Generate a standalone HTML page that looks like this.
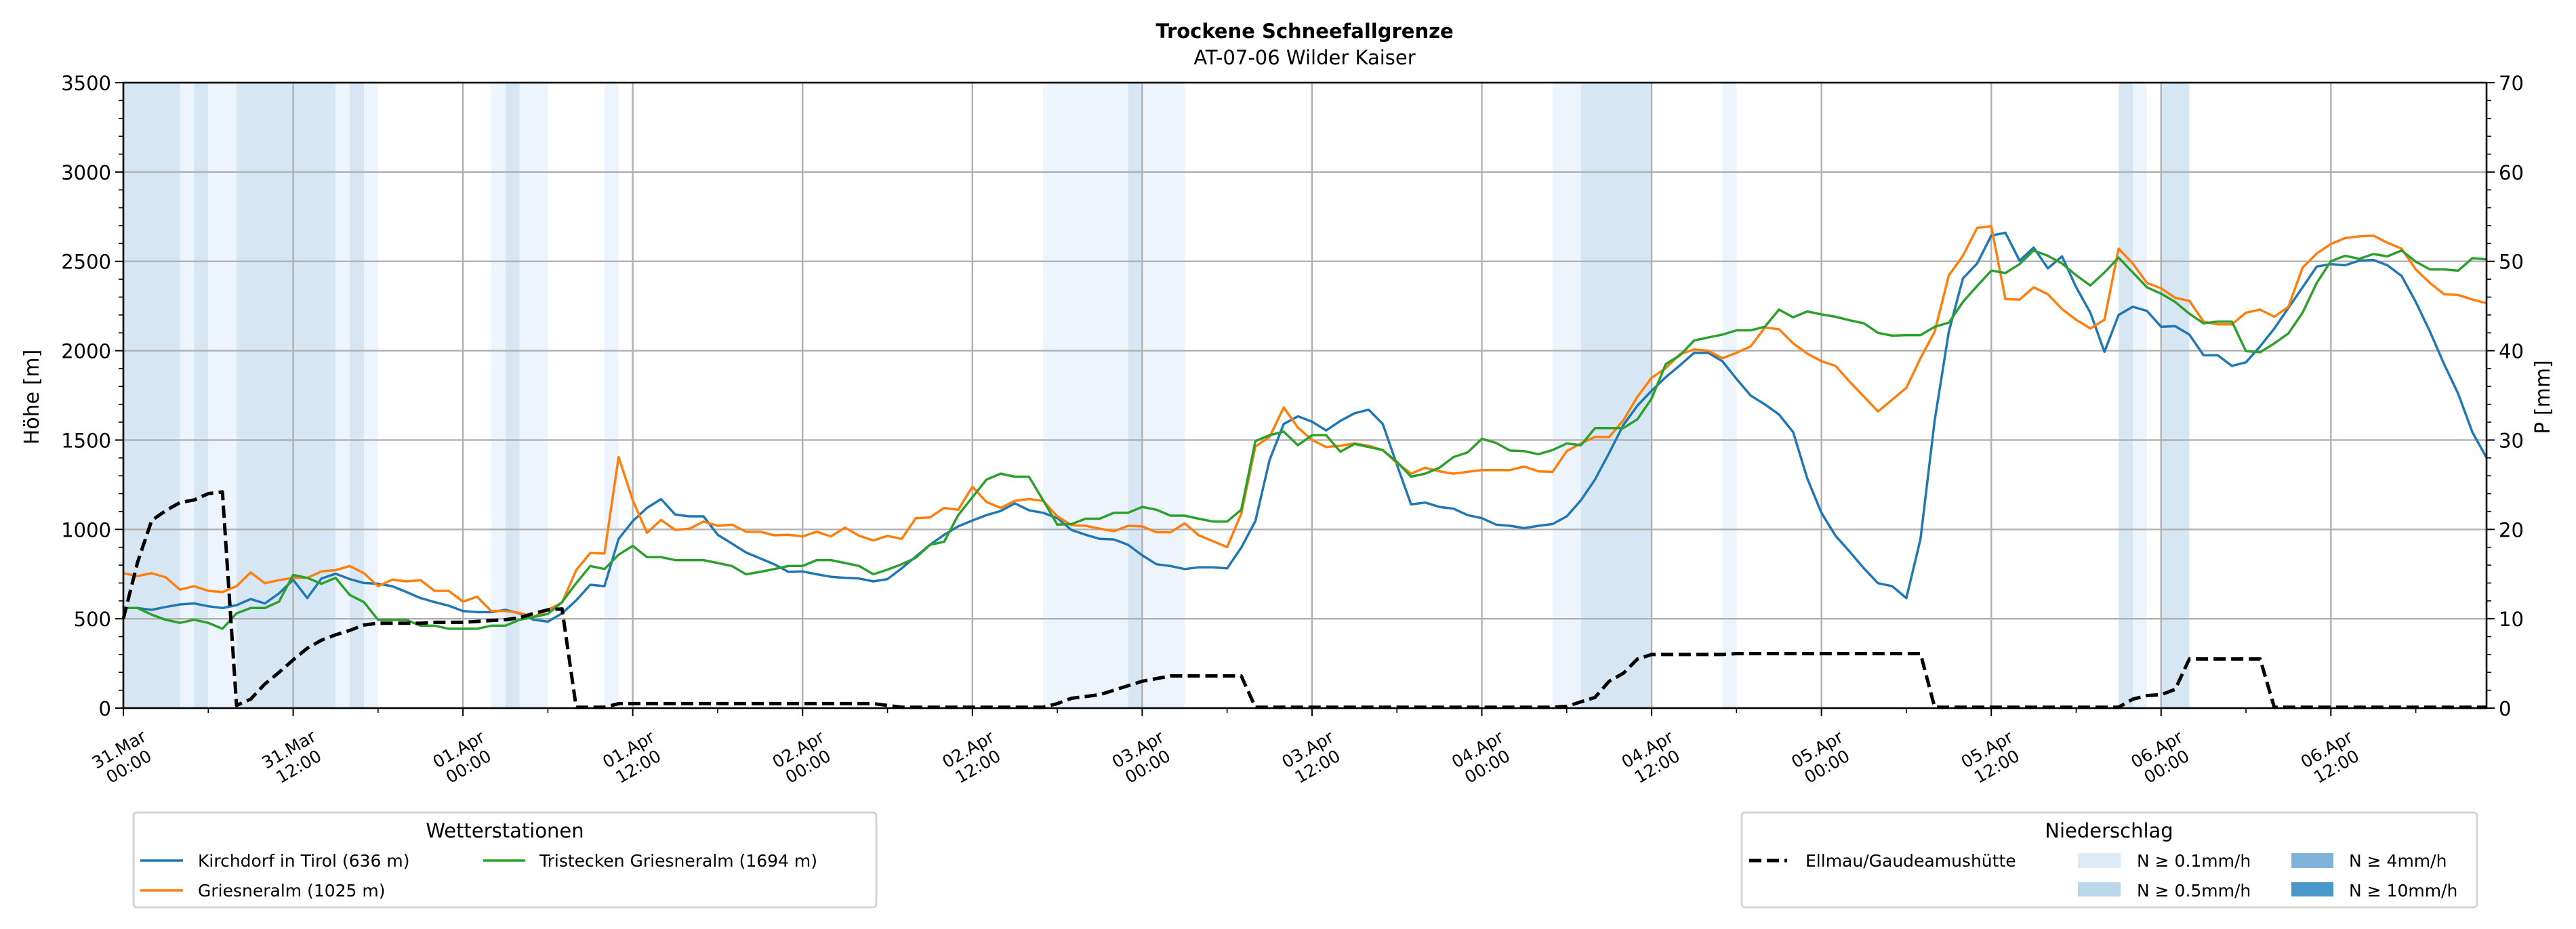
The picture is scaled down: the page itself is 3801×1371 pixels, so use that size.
<!DOCTYPE html>
<html><head><meta charset="utf-8"><style>
html,body{margin:0;padding:0;background:#fff;}
svg{display:block;font-family:"DejaVu Sans","Liberation Sans",sans-serif;}
</style></head><body>
<svg id="chart" xmlns="http://www.w3.org/2000/svg" width="3801" height="1371" viewBox="0 0 3801 1371">
<rect width="3801" height="1371" fill="#fff"/>
<g id="bands"></g><g id="grid"></g><g id="series"></g><g id="axes"></g>
<text x="1925" y="56" text-anchor="middle" font-size="29" font-weight="bold">Trockene Schneefallgrenze</text>
<text x="1925" y="95" text-anchor="middle" font-size="29">AT-07-06 Wilder Kaiser</text>
<text transform="translate(57,586) rotate(-90)" text-anchor="middle" font-size="30">Höhe [m]</text>
<text transform="translate(3762,586) rotate(-90)" text-anchor="middle" font-size="30">P [mm]</text>
<g>
<rect x="197" y="1199" width="1096" height="140" rx="5" fill="#fff" stroke="#d4d4d4" stroke-width="3"/>
<text x="745" y="1236" text-anchor="middle" font-size="29">Wetterstationen</text>
<line x1="207" y1="1270" x2="270" y2="1270" stroke="#1f77b4" stroke-width="3.5"/>
<text x="292" y="1279" font-size="25">Kirchdorf in Tirol (636 m)</text>
<line x1="207" y1="1314" x2="270" y2="1314" stroke="#ff7f0e" stroke-width="3.5"/>
<text x="292" y="1323" font-size="25">Griesneralm (1025 m)</text>
<line x1="713" y1="1270" x2="775" y2="1270" stroke="#2ca02c" stroke-width="3.5"/>
<text x="796" y="1279" font-size="25">Tristecken Griesneralm  (1694 m)</text>
</g>
<g>
<rect x="2570" y="1199" width="1085" height="140" rx="5" fill="#fff" stroke="#d4d4d4" stroke-width="3"/>
<text x="3112" y="1236" text-anchor="middle" font-size="29">Niederschlag</text>
<line x1="2581" y1="1270" x2="2637" y2="1270" stroke="#000" stroke-width="5" stroke-dasharray="18,8"/>
<text x="2664" y="1279" font-size="25">Ellmau/Gaudeamushütte</text>
<rect x="3066" y="1259" width="63" height="22" fill="#deebf7"/>
<text x="3153" y="1279" font-size="25">N ≥ 0.1mm/h</text>
<rect x="3066" y="1302" width="63" height="21" fill="#bad6eb"/>
<text x="3153" y="1323" font-size="25">N ≥ 0.5mm/h</text>
<rect x="3381" y="1259" width="62" height="22" fill="#7fb3d8"/>
<text x="3466" y="1279" font-size="25">N ≥ 4mm/h</text>
<rect x="3381" y="1302" width="62" height="21" fill="#4a98c9"/>
<text x="3466" y="1323" font-size="25">N ≥ 10mm/h</text>
</g>
</svg>
<script>
const kirchdorf=[560,560,550,566,580,586,570,560,576,610,586,642,718,616,725,752,722,700,696,682,650,616,593,573,543,537,537,550,530,494,484,530,603,690,682,947,1047,1120,1170,1083,1073,1073,970,921,871,838,805,762,765,749,735,729,725,709,722,782,848,914,970,1017,1050,1080,1103,1146,1107,1093,1063,997,970,947,944,914,855,805,795,778,788,788,782,898,1047,1388,1590,1633,1603,1554,1607,1650,1670,1590,1362,1140,1150,1126,1116,1080,1063,1027,1020,1007,1020,1030,1073,1163,1279,1428,1584,1693,1776,1852,1918,1988,1988,1941,1842,1749,1700,1643,1544,1285,1093,964,875,782,699,682,616,947,1610,2107,2405,2488,2644,2660,2504,2577,2461,2528,2355,2213,1994,2200,2246,2223,2134,2137,2090,1975,1975,1915,1935,2024,2124,2240,2355,2471,2485,2478,2504,2508,2478,2418,2273,2107,1925,1759,1544,1401];
const griesneralm=[755,739,755,732,663,682,656,649,682,759,699,716,729,729,765,772,795,755,682,719,709,716,656,656,596,623,543,543,533,510,550,590,772,868,865,1405,1163,981,1053,997,1004,1044,1020,1027,987,987,967,970,961,987,961,1010,964,938,964,947,1063,1067,1120,1110,1239,1153,1120,1160,1170,1160,1073,1024,1020,1004,990,1020,1017,984,984,1034,967,934,901,1087,1464,1517,1683,1570,1501,1461,1468,1481,1468,1444,1372,1312,1345,1325,1312,1322,1332,1332,1332,1352,1325,1322,1438,1481,1517,1517,1610,1743,1849,1902,1981,2007,2000,1958,1988,2024,2130,2120,2041,1984,1941,1915,1826,1743,1660,1726,1792,1958,2107,2422,2531,2687,2697,2289,2286,2355,2316,2233,2173,2124,2173,2571,2488,2379,2349,2296,2279,2163,2147,2147,2213,2230,2190,2246,2465,2544,2597,2630,2640,2644,2604,2571,2455,2379,2316,2312,2286,2266];
const tristecken=[560,560,523,494,477,494,477,444,530,560,560,596,745,729,696,729,633,593,494,494,494,461,461,444,444,444,461,461,494,510,527,593,699,795,778,858,908,845,845,828,828,828,812,795,749,762,778,795,795,828,828,812,795,749,775,805,841,914,931,1080,1180,1279,1312,1295,1295,1163,1027,1030,1060,1060,1093,1093,1126,1110,1077,1077,1060,1044,1044,1110,1494,1527,1547,1471,1527,1527,1435,1478,1461,1444,1378,1295,1312,1345,1405,1431,1507,1484,1441,1438,1421,1444,1481,1471,1567,1567,1567,1617,1733,1925,1974,2057,2074,2090,2114,2114,2134,2230,2187,2220,2203,2190,2170,2153,2100,2084,2087,2087,2134,2157,2273,2362,2448,2435,2485,2561,2531,2488,2422,2365,2438,2521,2438,2355,2319,2273,2207,2153,2163,2163,1998,1991,2041,2097,2213,2379,2501,2531,2514,2541,2528,2561,2498,2455,2455,2448,2518,2511];
const ellmauPrecip=[10,16.3,21,22.1,23,23.3,24,24.2,0.3,1,2.7,4,5.4,6.7,7.6,8.2,8.7,9.3,9.5,9.5,9.5,9.5,9.6,9.6,9.6,9.7,9.8,9.9,10.1,10.6,11,11.1,0.1,0.1,0.1,0.5,0.5,0.5,0.5,0.5,0.5,0.5,0.5,0.5,0.5,0.5,0.5,0.5,0.5,0.5,0.5,0.5,0.5,0.5,0.3,0.1,0.1,0.1,0.1,0.1,0.1,0.1,0.1,0.1,0.1,0.1,0.5,1.1,1.3,1.5,2,2.5,3,3.3,3.6,3.6,3.6,3.6,3.6,3.6,0.1,0.1,0.1,0.1,0.1,0.1,0.1,0.1,0.1,0.1,0.1,0.1,0.1,0.1,0.1,0.1,0.1,0.1,0.1,0.1,0.1,0.1,0.2,0.7,1.2,3,3.9,5.5,6,6,6,6,6,6,6.1,6.1,6.1,6.1,6.1,6.1,6.1,6.1,6.1,6.1,6.1,6.1,6.1,6.1,0.1,0.1,0.1,0.1,0.1,0.1,0.1,0.1,0.1,0.1,0.1,0.1,0.1,0.1,1,1.4,1.5,2.1,5.5,5.5,5.5,5.5,5.5,5.5,0.1,0.1,0.1,0.1,0.1,0.1,0.1,0.1,0.1,0.1,0.1,0.1,0.1,0.1,0.1,0.1];
const bandStart=[0,4,5,6,8,15,16,17,26,27,28,34,65,71,72,101,103,113,141,142,144];
const bandEnd=[4,5,6,8,15,16,17,18,27,28,30,35,71,72,75,103,108,114,142,143,146];
const bandLevel=[1,0,1,0,1,0,1,0,0,1,0,0,0,1,0,0,1,0,1,0,1];
const xTickLabels=["31.Mar|00:00","31.Mar|12:00","01.Apr|00:00","01.Apr|12:00","02.Apr|00:00","02.Apr|12:00","03.Apr|00:00","03.Apr|12:00","04.Apr|00:00","04.Apr|12:00","05.Apr|00:00","05.Apr|12:00","06.Apr|00:00","06.Apr|12:00"];
const yTicks=[0,500,1000,1500,2000,2500,3000,3500];
const y2Ticks=[0,10,20,30,40,50,60,70];

const NS="http://www.w3.org/2000/svg";
const L=182,R=3669,T=122,B=1045,HMAX=167;
const x=h=>L+(R-L)*h/HMAX;
const y=v=>B-(B-T)*v/3500;
const y2=v=>B-(B-T)*v/70;
function mk(tag,attrs,parent){const e=document.createElementNS(NS,tag);for(const k in attrs)e.setAttribute(k,attrs[k]);parent.appendChild(e);return e;}
const bands=document.getElementById('bands'),grid=document.getElementById('grid'),series=document.getElementById('series'),axes=document.getElementById('axes');
const bandColors=['#eef4fb','#d7e6f3'];
bandStart.forEach((s,i)=>{const r=mk('rect',{x:x(s),y:T,width:x(bandEnd[i])-x(s),height:B-T,fill:bandColors[bandLevel[i]]},bands);

});
xTickLabels.forEach((lab,i)=>{const h=i*12;const gx=x(h);
mk('line',{x1:gx,y1:T,x2:gx,y2:B,stroke:'#b0b0b0','stroke-width':2.4},grid);
mk('line',{x1:gx,y1:B,x2:gx,y2:B+12,stroke:'#000','stroke-width':2},axes);
const parts=lab.split('|');
const t=mk('text',{transform:`translate(${gx},${B+72}) rotate(-30)`,'text-anchor':'middle','font-size':25},axes);


mk('tspan',{x:0,y:-4},t).textContent=parts[0];
mk('tspan',{x:0,y:25},t).textContent=parts[1];});
for(let h=6;h<=HMAX;h+=12){mk('line',{x1:x(h),y1:B,x2:x(h),y2:B+7,stroke:'#000','stroke-width':1.6},axes);}
yTicks.forEach(v=>{if(v>0&&v<3500)mk('line',{x1:L,y1:y(v),x2:R,y2:y(v),stroke:'#b0b0b0','stroke-width':2.4},grid);
mk('line',{x1:L-12,y1:y(v),x2:L,y2:y(v),stroke:'#000','stroke-width':2},axes);
const t=mk('text',{x:L-18,y:y(v)+11,'text-anchor':'end','font-size':29},axes);t.textContent=v;

});
for(let v=0;v<=3500;v+=100){if(v%500)mk('line',{x1:L-7,y1:y(v),x2:L,y2:y(v),stroke:'#000','stroke-width':1.6},axes);}
y2Ticks.forEach(v=>{mk('line',{x1:R,y1:y2(v),x2:R+12,y2:y2(v),stroke:'#000','stroke-width':2},axes);
const t=mk('text',{x:R+18,y:y2(v)+11,'font-size':29},axes);t.textContent=v;

});
for(let v=0;v<=70;v+=2){if(v%10)mk('line',{x1:R,y1:y2(v),x2:R+7,y2:y2(v),stroke:'#000','stroke-width':1.6},axes);}
mk('rect',{x:L,y:T,width:R-L,height:B-T,fill:'none',stroke:'#000','stroke-width':2.6},axes);
function line(arr,fy,color,extra,name){const d=arr.map((v,i)=>(i?'L':'M')+x(i).toFixed(1)+','+fy(v).toFixed(1)).join('');
const p=mk('path',Object.assign({d:d,fill:'none',stroke:color,'stroke-width':3.5,'stroke-linejoin':'round'},extra),series);

}
line(kirchdorf,y,'#1f77b4',{},'kirchdorf-line');
line(griesneralm,y,'#ff7f0e',{},'griesneralm-line');
line(tristecken,y,'#2ca02c',{},'tristecken-line');
line(ellmauPrecip,y2,'#000',{'stroke-width':5,'stroke-dasharray':'18,8'},'ellmau-precip-line');
</script>
</body></html>
